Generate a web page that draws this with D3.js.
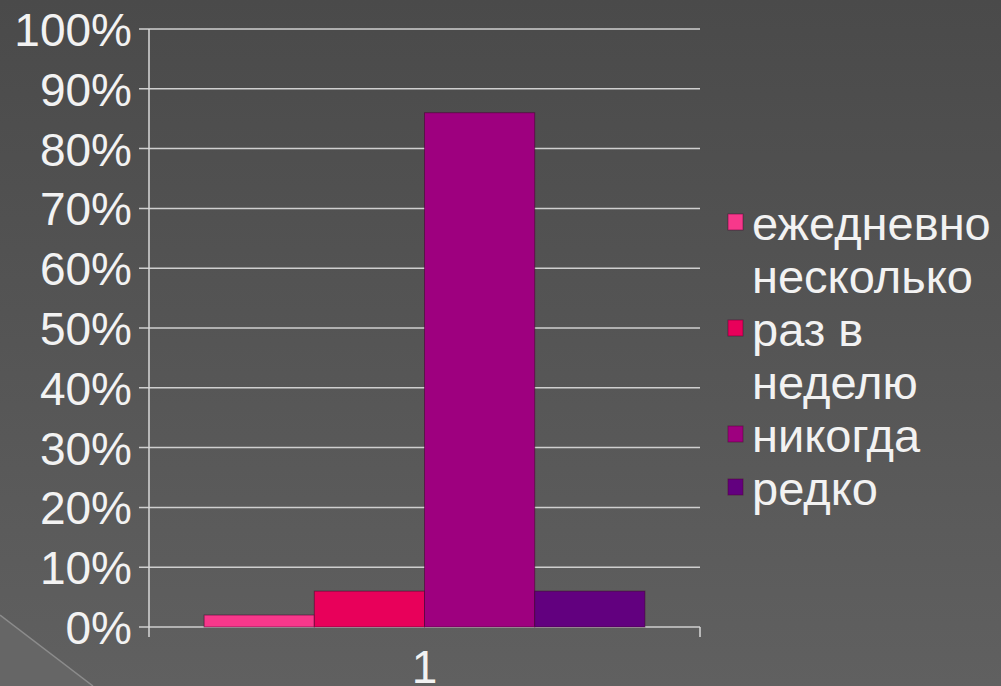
<!DOCTYPE html>
<html><head><meta charset="utf-8">
<script src="https://cdn.jsdelivr.net/npm/d3@7"></script>
<style>html,body{margin:0;padding:0;background:#555;}svg{display:block;}</style>
</head><body>
<svg id="c" width="1001" height="686"></svg>
<script>
const categories = ["1"];
const seriesNames = ["ежедневно", "несколько раз в неделю", "никогда", "редко"];
const seriesValues = [2, 6, 86, 6];
const seriesColors = ["#f7388b", "#e8005a", "#9e007f", "#62007f"];
const legendLines = [["ежедневно"], ["несколько", "раз в", "неделю"], ["никогда"], ["редко"]];
const legendMarkerLine = [0, 1, 0, 0];
const yTicks = [0, 10, 20, 30, 40, 50, 60, 70, 80, 90, 100];

(function(){
const svg = d3.select("#c");
const W = 1001, H = 686;
const defs = svg.append("defs");
const g = defs.append("linearGradient").attr("id","bg").attr("x1",0).attr("y1",0).attr("x2",0).attr("y2",1);
g.append("stop").attr("offset","0%").attr("stop-color","#4a4a4a");
g.append("stop").attr("offset","100%").attr("stop-color","#606060");
svg.append("rect").attr("width",W).attr("height",H).attr("fill","url(#bg)");
svg.append("path").attr("d","M0,615 L93,686 L0,686 Z").attr("fill","#666666");
svg.append("line").attr("x1",0).attr("y1",615).attr("x2",93).attr("y2",686).attr("stroke","#8c8c8c").attr("stroke-width",1.5);

const pLeft = 149, pRight = 700, pTop = 29, pBottom = 627;
const y = d3.scaleLinear().domain([0,100]).range([pBottom, pTop]);
const x0 = d3.scaleBand().domain(categories).range([pLeft, pRight]).paddingInner(0).paddingOuter(0);
const x1 = d3.scaleBand().domain(d3.range(seriesValues.length)).range([0, x0.bandwidth()]).paddingOuter(0.5).paddingInner(0);

svg.append("g").selectAll("line").data(yTicks).join("line")
  .attr("x1", pLeft - 10).attr("x2", pRight)
  .attr("y1", d => y(d)).attr("y2", d => y(d))
  .attr("stroke", "#cfcfcf").attr("stroke-width", 1.5);

svg.append("g").selectAll("rect").data(seriesValues).join("rect")
  .attr("x", (d,i) => x0(categories[0]) + x1(i))
  .attr("width", x1.bandwidth())
  .attr("y", d => y(d))
  .attr("height", d => y(0) - y(d))
  .attr("fill", (d,i) => seriesColors[i])
  .attr("stroke", "rgba(60,0,40,0.5)").attr("stroke-width", 1);

const yAxis = svg.append("g").attr("transform", `translate(${pLeft},0)`)
  .call(d3.axisLeft(y).tickValues(yTicks).tickSize(0).tickFormat(d => d + "%"));
yAxis.select(".domain").remove();
yAxis.selectAll("text").attr("x", -17).attr("dy","0.36em")
  .attr("fill","#f2f2f2").style("font-family","'Liberation Sans', Arial, sans-serif").style("font-size","46px");
svg.append("line").attr("x1",pLeft).attr("x2",pLeft).attr("y1",pTop).attr("y2",pBottom+10).attr("stroke","#d8d8d8").attr("stroke-width",1.5);

const xAxis = svg.append("g").attr("transform", `translate(0,${pBottom})`)
  .call(d3.axisBottom(x0).tickSize(0));
xAxis.select(".domain").remove();
xAxis.selectAll("text").attr("y", 56).attr("dy","0")
  .attr("fill","#f2f2f2").style("font-family","'Liberation Sans', Arial, sans-serif").style("font-size","46px");
svg.append("line").attr("x1",pRight).attr("x2",pRight).attr("y1",pBottom).attr("y2",pBottom+10).attr("stroke","#d8d8d8").attr("stroke-width",1.5);

const lg = svg.append("g");
let line = 0;
const base0 = 240, lh = 53;
legendLines.forEach((lines, i) => {
  const mb = base0 + (line + legendMarkerLine[i]) * lh;
  lg.append("rect").attr("x", 728).attr("y", mb - 26).attr("width", 15).attr("height", 16)
    .attr("fill", seriesColors[i]).attr("stroke","rgba(80,0,50,0.5)").attr("stroke-width",1);
  lines.forEach(t => {
    lg.append("text").attr("x", 752).attr("y", base0 + line * lh).text(t)
      .attr("fill","#f2f2f2").style("font-family","'Liberation Sans', Arial, sans-serif").style("font-size","47px");
    line++;
  });
});
})();
</script>
</body></html>
